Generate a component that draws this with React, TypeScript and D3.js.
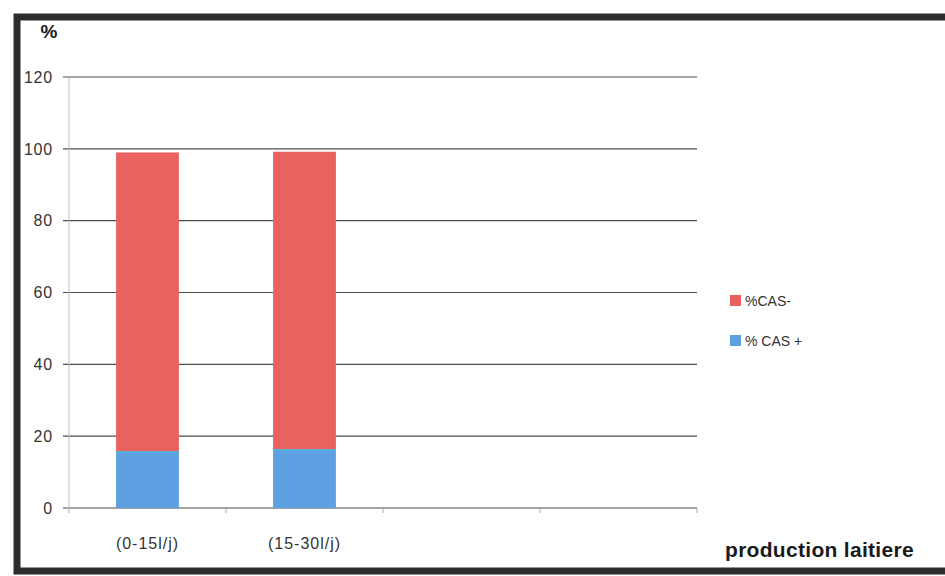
import React from "react";
import * as d3 from "d3";

// Categories (milk production classes); the last two slots are empty
const categories = ["(0-15l/j)", "(15-30l/j)", "", ""];
const casPositive = [15.6, 16.2, null, null];
const casNegative = [83.4, 83.0, null, null];
const yTicks = [0, 20, 40, 60, 80, 100, 120];

const seriesNames = ["%CAS-", "% CAS +"];
const colors = { neg: "#E9625F", pos: "#5EA1E2" };

const W = 945;
const H = 576;
const plot = { left: 69, right: 697, top: 77, bottom: 508 };

export default function App() {
  const x = d3
    .scaleBand<number>()
    .domain(categories.map((_, i) => i))
    .range([plot.left, plot.right])
    .paddingInner(0.6)
    .paddingOuter(0.3);
  const y = d3.scaleLinear().domain([0, 120]).range([plot.bottom, plot.top]);

  const rows = categories.map((c, i) => ({
    i,
    label: c,
    pos: casPositive[i],
    neg: casNegative[i],
  }));
  const stack = d3
    .stack<any>()
    .keys(["pos", "neg"])
    .value((d, k) => (d[k] == null ? 0 : d[k]));
  const stacked = stack(rows.filter((r) => r.pos != null));

  const step = x.step();
  const boundaries = d3.range(categories.length + 1).map((k) => plot.left + k * step);
  const font = "'Liberation Sans', Arial, sans-serif";

  return (
    <svg
      width={W}
      height={H}
      style={{ position: "absolute", left: 0, top: 0, background: "#fff" }}
    >
      {/* gridlines with small left ticks */}
      {yTicks.map((t) => (
        <line
          key={t}
          x1={plot.left - 6}
          x2={plot.right}
          y1={y(t)}
          y2={y(t)}
          stroke="#4d4d4d"
          strokeWidth={1.2}
        />
      ))}
      {/* value axis */}
      <line x1={plot.left} x2={plot.left} y1={plot.top} y2={plot.bottom} stroke="#b8c0c0" strokeWidth={1} />
      {/* category ticks */}
      {boundaries.map((bx, k) => (
        <line key={k} x1={bx} x2={bx} y1={plot.bottom} y2={plot.bottom + 5} stroke="#aaa" strokeWidth={1} />
      ))}

      {/* stacked bars */}
      {stacked.map((layer) => (
        <g key={layer.key} fill={layer.key === "pos" ? colors.pos : colors.neg}>
          {layer.map((d: any) => (
            <rect
              key={d.data.i}
              x={x(d.data.i)}
              width={x.bandwidth()}
              y={y(d[1])}
              height={y(d[0]) - y(d[1])}
            />
          ))}
        </g>
      ))}
      {/* thin cyan edge on top of the blue segment */}
      {stacked[0].map((d: any) => (
        <line
          key={d.data.i}
          x1={x(d.data.i)}
          x2={(x(d.data.i) as number) + x.bandwidth()}
          y1={y(d[1])}
          y2={y(d[1])}
          stroke="#3cc0e8"
          strokeWidth={1.2}
        />
      ))}

      {/* y tick labels */}
      {yTicks.map((t) => (
        <text
          key={t}
          x={53}
          y={y(t)}
          dy="0.36em"
          textAnchor="end"
          fontFamily={font}
          fontSize={16}
          letterSpacing={0.8}
          fill="#333"
        >
          {t}
        </text>
      ))}
      <text x={49} y={38} textAnchor="middle" fontFamily={font} fontSize={19} fontWeight="bold" fill="#1a1a1a">
        %
      </text>

      {/* category labels */}
      {rows.map((r) => (
        <text
          key={r.i}
          x={(x(r.i) as number) + x.bandwidth() / 2}
          y={549}
          textAnchor="middle"
          fontFamily={font}
          fontSize={16}
          letterSpacing={1}
          fill="#333"
        >
          {r.label}
        </text>
      ))}
      <text x={725} y={557} fontFamily={font} fontSize={21} fontWeight="bold" letterSpacing={0.3} fill="#1a1a1a">
        production laitiere
      </text>

      {/* legend */}
      {seriesNames.map((name, k) => (
        <g key={name} transform={`translate(730, ${295 + k * 40})`}>
          <rect width={11} height={11} fill={k === 0 ? colors.neg : colors.pos} />
          <text x={15} y={11} fontFamily={font} fontSize={14} fill="#333">
            {name}
          </text>
        </g>
      ))}

      {/* outer frame */}
      <path d={`M${W},17 H17 V571 H${W}`} fill="none" stroke="#2b2b2b" strokeWidth={7} />
    </svg>
  );
}
